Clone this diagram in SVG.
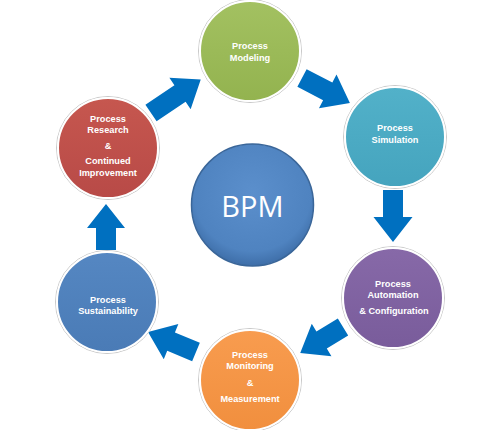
<svg xmlns="http://www.w3.org/2000/svg" width="500" height="430" viewBox="0 0 500 430">
<defs>
<linearGradient id="gG" x1="0" y1="0" x2="0" y2="1"><stop offset="0" stop-color="#a3c161"/><stop offset="1" stop-color="#93b34f"/></linearGradient>
<linearGradient id="gT" x1="0" y1="0" x2="0" y2="1"><stop offset="0" stop-color="#52b1c9"/><stop offset="1" stop-color="#45a4be"/></linearGradient>
<linearGradient id="gP" x1="0" y1="0" x2="0" y2="1"><stop offset="0" stop-color="#8769a8"/><stop offset="1" stop-color="#795c9b"/></linearGradient>
<linearGradient id="gO" x1="0" y1="0" x2="0" y2="1"><stop offset="0" stop-color="#f89c4f"/><stop offset="1" stop-color="#f18f3e"/></linearGradient>
<linearGradient id="gB" x1="0" y1="0" x2="0" y2="1"><stop offset="0" stop-color="#5587c2"/><stop offset="1" stop-color="#4a7bb6"/></linearGradient>
<linearGradient id="gR" x1="0" y1="0" x2="0" y2="1"><stop offset="0" stop-color="#c6574f"/><stop offset="1" stop-color="#b84a47"/></linearGradient>
<radialGradient id="gBPM" cx="0.5" cy="0.4" r="0.6"><stop offset="0" stop-color="#5b8fcc"/><stop offset="0.8" stop-color="#4f83c0"/><stop offset="1" stop-color="#3e6ea8"/></radialGradient>
</defs>
<style>
.ring{stroke:#ffffff;stroke-width:2}
.halo{fill:none;stroke:#c8c8c8;stroke-width:1}
.lbl{font-family:"Liberation Sans",Arial,sans-serif;font-weight:bold;font-size:9.2px;fill:#ffffff;text-anchor:middle}
.arr{fill:#0070c0}
</style>
<g id="connectors">
<path class="arr" transform="translate(151,113) rotate(-34)" d="M0,-10 L35,-10 L35,-19 L60,0 L35,19 L35,10 L0,10 Z"/>
<path class="arr" transform="translate(302,78) rotate(27.5)" d="M0,-10 L29,-10 L29,-19 L54,0 L29,19 L29,10 L0,10 Z"/>
<path class="arr" transform="translate(393,190) rotate(90)" d="M0,-10 L27,-10 L27,-19.5 L52,0 L27,19.5 L27,10 L0,10 Z"/>
<path class="arr" transform="translate(343,327) rotate(148.8)" d="M0,-10 L25,-10 L25,-19 L50,0 L25,19 L25,10 L0,10 Z"/>
<path class="arr" transform="translate(196,352) rotate(202.6)" d="M0,-10 L27,-10 L27,-19 L52,0 L27,19 L27,10 L0,10 Z"/>
<path class="arr" transform="translate(106,250) rotate(-90)" d="M0,-10 L22,-10 L22,-19 L46,0 L22,19 L22,10 L0,10 Z"/>
</g>
<g id="modeling">
<circle class="halo" cx="250" cy="51" r="51.5"/>
<circle class="ring" cx="250" cy="51" r="50" fill="url(#gG)"/>
<text class="lbl" x="250" y="48.5">Process</text>
<text class="lbl" x="250" y="60.5">Modeling</text>
</g>
<g id="simulation">
<circle class="halo" cx="395" cy="137" r="51.5"/>
<circle class="ring" cx="395" cy="137" r="50" fill="url(#gT)"/>
<text class="lbl" x="395" y="131">Process</text>
<text class="lbl" x="395" y="142.5">Simulation</text>
</g>
<g id="automation">
<circle class="halo" cx="393" cy="298" r="51.5"/>
<circle class="ring" cx="393" cy="298" r="50" fill="url(#gP)"/>
<text class="lbl" x="393" y="286.5">Process</text>
<text class="lbl" x="393" y="297.5">Automation</text>
<text class="lbl" x="394" y="314">&amp; Configuration</text>
</g>
<g id="monitoring">
<circle class="halo" cx="250" cy="380" r="51.5"/>
<circle class="ring" cx="250" cy="380" r="50" fill="url(#gO)"/>
<text class="lbl" x="250" y="358">Process</text>
<text class="lbl" x="250" y="369">Monitoring</text>
<text class="lbl" x="250" y="385.5">&amp;</text>
<text class="lbl" x="250" y="401.5">Measurement</text>
</g>
<g id="sustainability">
<circle class="halo" cx="107" cy="302" r="51.5"/>
<circle class="ring" cx="107" cy="302" r="50" fill="url(#gB)"/>
<text class="lbl" x="108" y="302.5">Process</text>
<text class="lbl" x="108" y="314">Sustainability</text>
</g>
<g id="research">
<circle class="halo" cx="108" cy="148" r="51.5"/>
<circle class="ring" cx="108" cy="148" r="50" fill="url(#gR)"/>
<text class="lbl" x="108" y="121.5">Process</text>
<text class="lbl" x="108" y="132.5">Research</text>
<text class="lbl" x="108" y="149">&amp;</text>
<text class="lbl" x="108" y="164">Continued</text>
<text class="lbl" x="108" y="175.5">Improvement</text>
</g>
<g id="bpm">
<circle cx="252.5" cy="205" r="61" fill="url(#gBPM)" stroke="#3a6699" stroke-width="1.5"/>
<text x="252.5" y="217" font-family="'Open Sans','Liberation Sans',sans-serif" font-size="29" fill="#ffffff" text-anchor="middle">BPM</text>
</g>
</svg>
